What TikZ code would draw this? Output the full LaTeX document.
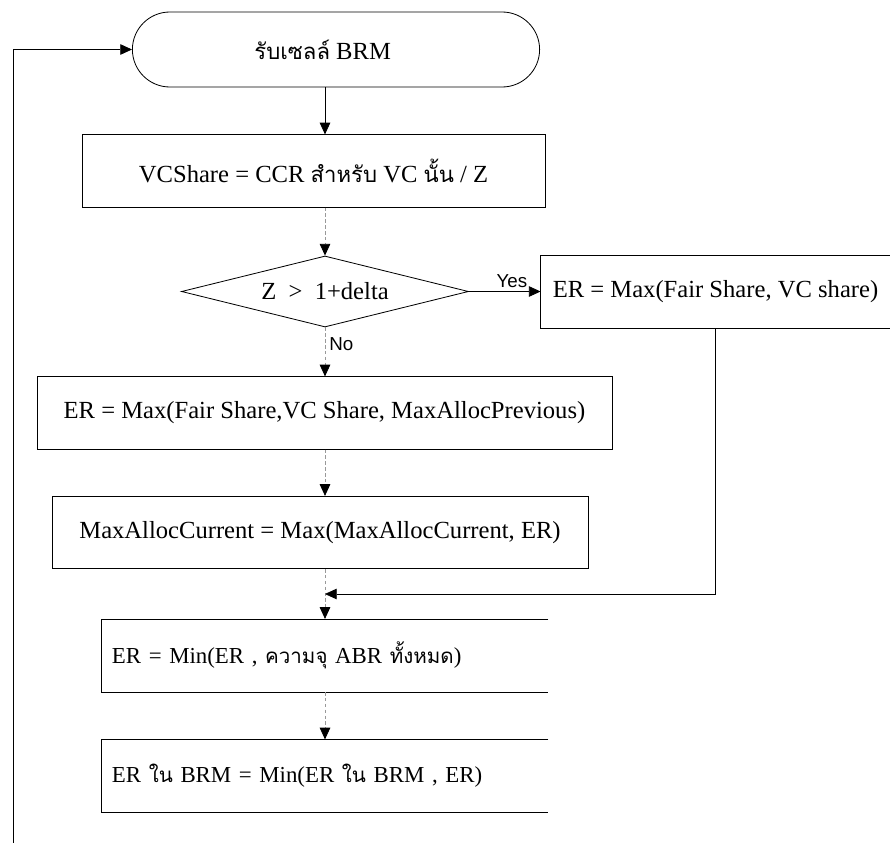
\documentclass[tikz,border=0pt]{standalone}
\usepackage{fontspec}
\setmainfont{Liberation Serif}
\newfontfamily\thaifont[Script=Thai, Scale=0.9]{Loma}
\newfontfamily\yesnofont{Liberation Sans}
\usetikzlibrary{arrows.meta, shapes.geometric, shapes.misc}

\newcommand{\thtxt}[1]{{\thaifont #1}}

\tikzset{
    arr/.style={-{Triangle[length=10pt, width=9pt]}, line width=0.7pt},
    faint/.style={-{Triangle[length=10pt, width=9pt, color=black]}, line width=0.7pt, densely dashed, draw=black!40},
    box/.style={rectangle, line width=0.7pt, minimum height=2.17cm, inner sep=0pt, font=\fontsize{21}{25}\selectfont},
    term/.style={rounded rectangle, draw, line width=0.7pt, minimum width=12.45cm, minimum height=2.25cm, font=\fontsize{21}{25}\selectfont},
    test/.style={diamond, draw, line width=0.7pt, aspect=4, minimum width=8.61cm, minimum height=2.13cm, inner sep=0pt, font=\fontsize{21}{25}\selectfont},
    yesno/.style={font=\yesnofont\fontsize{16}{19}\selectfont}
}

\begin{document}
\begin{tikzpicture}[x=0.03cm, y=-0.03cm]
        \useasboundingbox (0,0) rectangle (890,843);

        \node[term] (start) at (336,49.5) {\thtxt{รับเซลล์} BRM\hspace*{0.8cm}};

        \node[box, draw, minimum width=13.89cm] (vcshare) at (313.5,171) {VCShare = CCR \thtxt{สำหรับ} VC \thtxt{นั้น} / Z};

        \node[test] (check) at (325,291.5) {Z \ > \ 1+delta};

        \node[box, minimum width=10.47cm] (yesbox) at (715.5,291.5) {ER = Max(Fair Share, VC share)};

        \node[box, draw, minimum width=17.25cm] (maxbox) at (324.5,413) {ER = Max(Fair Share,VC Share, MaxAllocPrevious)};

        \node[box, draw, minimum width=16.08cm] (allocbox) at (320,532.5) {MaxAllocCurrent = Max(MaxAllocCurrent, ER)};

        \node[box, minimum width=13.38cm, text width=12.78cm, inner xsep=0.3cm, align=left, font=\fontsize{19.5}{23}\selectfont] (minbox) at (325,655.5) {ER = Min(ER , \thtxt{ความจุ} ABR \thtxt{ทั้งหมด})};

        \node[box, minimum width=13.38cm, text width=12.78cm, inner xsep=0.3cm, align=left, font=\fontsize{19.5}{23}\selectfont] (brmbox) at (325,776) {ER \thtxt{ใน} BRM = Min(ER \thtxt{ใน} BRM , ER)};

        % boxes cut open on the right
        \draw[line width=0.7pt] (yesbox.north east) -- (yesbox.north west) -- (yesbox.south west) -- (yesbox.south east);
        \draw[line width=0.7pt] (minbox.north east) -- (minbox.north west) -- (minbox.south west) -- (minbox.south east);
        \draw[line width=0.7pt] (brmbox.north east) -- (brmbox.north west) -- (brmbox.south west) -- (brmbox.south east);

        \coordinate (loopend) at (13,843);
        \coordinate (merge) at (325,594);

        \draw[arr] (start.south -| check.north) -- (vcshare.north -| check.north);
        \draw[faint] (vcshare.south -| check.north) -- (check.north);
        \draw[arr] (check.east) -- (yesbox.west) node[pos=0.6, above, yesno] {Yes};
        \draw[faint] (check.south) -- (maxbox.north -| check.south) node[pos=0.35, right, yesno] {No};
        \draw[faint] (maxbox.south -| check.south) -- (allocbox.north -| check.south);
        \draw[faint] (allocbox.south -| check.south) -- (minbox.north);
        \draw[arr] (yesbox.south) |- (merge);
        \draw[faint] (minbox.south) -- (brmbox.north);
        \draw[arr] (loopend) |- (start.west);

\end{tikzpicture}
\end{document}
